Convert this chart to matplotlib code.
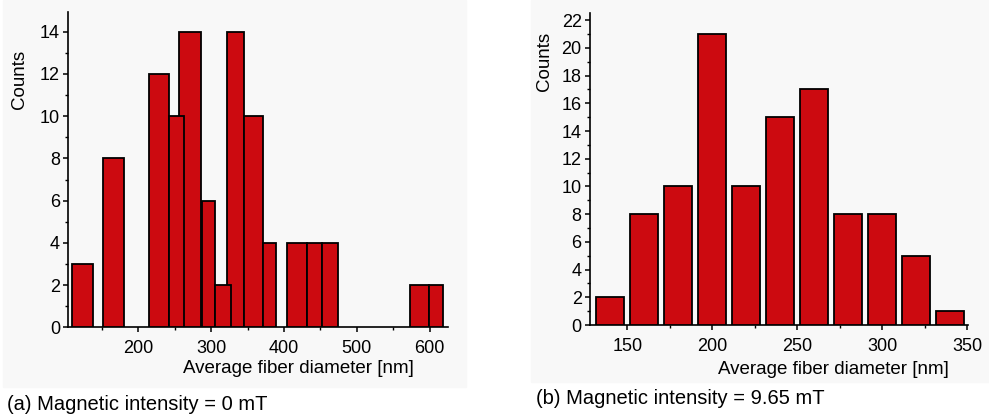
import numpy as np
import matplotlib.pyplot as plt
from matplotlib.patches import Rectangle
from matplotlib.ticker import MultipleLocator

plt.rcParams['font.family'] = ['Liberation Sans', 'DejaVu Sans']

# (a) 0 mT : bin edges (bars are uneven and partly overlap)
a_left = [108.6, 151.2, 215.1, 242.5, 256.2, 287.0, 305.2, 321.3, 345.0, 370.6,
          404.4, 431.0, 451.6, 572.7, 599.2]
a_right = [138.3, 181.0, 242.5, 262.7, 285.6, 305.2, 326.7, 345.0, 370.6, 388.9,
           431.0, 451.6, 474.4, 599.2, 618.4]
a_counts = [3, 8, 12, 10, 14, 6, 2, 14, 10, 4, 4, 4, 4, 2, 2]

# (b) 9.65 mT
b_centers = [140, 160, 180, 200, 220, 240, 260, 280, 300, 320, 340]
b_counts = [2, 8, 10, 21, 10, 15, 17, 8, 8, 5, 1]

bar_color = '#cc0a10'

fig = plt.figure(figsize=(9.89, 4.18), dpi=100)

# faint grey backdrop of the two pasted plot images
fig.patches.append(Rectangle((0.003, 1 - 387 / 418), 463 / 989, 387 / 418,
                             transform=fig.transFigure, color='#f8f8f8', zorder=-10))
fig.patches.append(Rectangle((531 / 989, 1 - 382 / 418), 1 - 531 / 989, 382 / 418,
                             transform=fig.transFigure, color='#f8f8f8', zorder=-10))


def style(ax):
    ax.set_facecolor('none')
    ax.spines['top'].set_visible(False)
    ax.spines['right'].set_visible(False)
    ax.spines['left'].set_linewidth(1.2)
    ax.spines['bottom'].set_linewidth(1.2)
    ax.tick_params(which='major', direction='out', length=3.5, width=1.1, labelsize=13)
    ax.tick_params(which='minor', direction='out', length=2, width=1.0)
    ax.tick_params(axis='x', which='major', pad=6)
    ax.tick_params(axis='y', which='major', pad=2.5)
    ax.set_ylabel('Counts', fontsize=13.5)


# ---- (a)
ax1 = fig.add_axes([68.3 / 989, 1 - 327.3 / 418, (448 - 68.3) / 989, (327.3 - 11.7) / 418])
for l, r, c in zip(a_left, a_right, a_counts):
    ax1.bar(l, c, width=r - l, align='edge', color=bar_color, edgecolor='black',
            linewidth=1.3, zorder=20 - c)
ax1.set_xlim(104, 625)
ax1.set_ylim(0, 14.95)
ax1.xaxis.set_major_locator(MultipleLocator(100))
ax1.xaxis.set_minor_locator(MultipleLocator(50))
ax1.yaxis.set_major_locator(MultipleLocator(2))
ax1.yaxis.set_minor_locator(MultipleLocator(1))
style(ax1)
ax1.set_xlabel('Average fiber diameter [nm]', fontsize=13.5)
ax1.xaxis.set_label_coords(0.605, -0.105)
ax1.yaxis.set_label_coords(-0.106, 0.784)

# ---- (b)
ax2 = fig.add_axes([590 / 989, 1 - 325 / 418, (968 - 590) / 989, (325 - 13.3) / 418])
ax2.bar(b_centers, b_counts, width=16.5, color=bar_color, edgecolor='black',
        linewidth=1.3, zorder=3)
ax2.set_xlim(128, 350.5)
ax2.set_ylim(0, 22.5)
ax2.xaxis.set_major_locator(MultipleLocator(50))
ax2.xaxis.set_minor_locator(MultipleLocator(25))
ax2.yaxis.set_major_locator(MultipleLocator(2))
ax2.yaxis.set_minor_locator(MultipleLocator(1))
style(ax2)
ax2.set_xlabel('Average fiber diameter [nm]', fontsize=13.5)
ax2.xaxis.set_label_coords(0.645, -0.117)
ax2.yaxis.set_label_coords(-0.098, 0.847)

fig.text(7 / 989, 1 - 404 / 418, '(a) Magnetic intensity = 0 mT', fontsize=14.5,
         ha='left', va='center')
fig.text(536 / 989, 1 - 399 / 418, '(b) Magnetic intensity = 9.65 mT', fontsize=14.5,
         ha='left', va='center')

fig.savefig('out.png', dpi=100)
